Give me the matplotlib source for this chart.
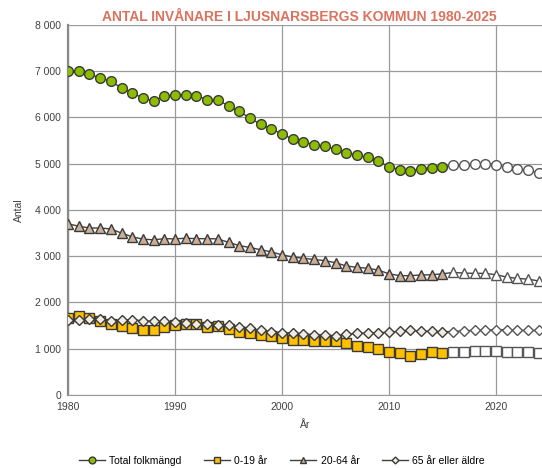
import matplotlib.pyplot as plt
import matplotlib.ticker as mticker
import numpy as np

years = list(range(1980, 2025))
last_actual = 2015

total = [7000, 7000, 6930, 6860, 6780, 6640, 6530, 6420, 6355, 6460,
         6490, 6480, 6475, 6385, 6380, 6250, 6130, 5990, 5850, 5750,
         5645, 5530, 5470, 5410, 5380, 5310, 5240, 5185, 5135, 5055,
         4935, 4870, 4850, 4880, 4915, 4930, 4970, 4980, 4990, 5005,
         4980, 4920, 4885, 4855, 4805]

age_0_19 = [1675, 1710, 1660, 1590, 1545, 1500, 1450, 1410, 1400, 1475,
            1520, 1530, 1535, 1460, 1490, 1425, 1365, 1330, 1295, 1265,
            1235, 1185, 1185, 1175, 1165, 1160, 1120, 1070, 1035, 985,
            935, 905, 850, 885, 920, 905, 935, 940, 950, 955,
            950, 940, 935, 930, 915]

age_20_64 = [3700, 3650, 3610, 3610, 3590, 3500, 3420, 3370, 3355, 3380,
             3375, 3390, 3380, 3380, 3375, 3300, 3230, 3190, 3140, 3095,
             3030, 2985, 2955, 2930, 2905, 2860, 2790, 2760, 2740, 2700,
             2620, 2580, 2580, 2595, 2600, 2620, 2650, 2635, 2630, 2630,
             2600, 2550, 2520, 2505, 2465]

age_65 = [1625, 1625, 1640, 1635, 1610, 1625, 1620, 1610, 1590, 1590,
          1570, 1555, 1545, 1530, 1520, 1505, 1480, 1445, 1400, 1370,
          1350, 1340, 1325, 1300, 1300, 1280, 1310, 1330, 1340, 1345,
          1360, 1375, 1395, 1380, 1375, 1370, 1370, 1390, 1395, 1405,
          1410, 1410, 1395, 1395, 1395]

series = [
    ("Total folkmängd", total, "o", "#8CBD00", 7.0),
    ("0-19 år", age_0_19, "s", "#FFC000", 6.5),
    ("20-64 år", age_20_64, "^", "#C9AE98", 6.8),
    ("65 år eller äldre", age_65, "D", "#F0ECE2", 5.0),
]

plt.rcParams['font.family'] = ['Liberation Sans', 'DejaVu Sans']

fig = plt.figure(figsize=(5.42, 4.68), dpi=100)
ax = fig.add_axes([0.1255, 0.156, 0.8745, 0.7906])

yrs = np.array(years)
actual = yrs <= last_actual
for label, vals, marker, color, ms in series:
    vals = np.array(vals)
    ax.plot(yrs, vals, color="#404040", lw=1.0, zorder=2)
    ax.plot(yrs[actual], vals[actual], ls="none", marker=marker, ms=ms,
            mfc=color, mec="#3A3A3A", mew=1.0, zorder=3)
    ax.plot(yrs[~actual], vals[~actual], ls="none", marker=marker, ms=ms,
            mfc="white", mec="#555555", mew=1.0, zorder=3)
    ax.plot([], [], color="#404040", lw=1.0, marker=marker, ms=ms * 0.7,
            mfc=color, mec="#3A3A3A", label=label)

ax.set_xlim(1980, 2024.3)
ax.set_ylim(0, 8000)
ax.set_xticks(range(1980, 2021, 10))
ax.set_yticks(range(0, 8001, 1000))
ax.yaxis.set_major_formatter(mticker.FuncFormatter(lambda v, p: f"{int(v):,}".replace(",", " ")))
ax.grid(True, color="#9A9A9A", lw=0.9)
ax.set_axisbelow(True)
ax.tick_params(labelsize=7.5, colors="#404040", length=0, pad=5)
for s in ("top", "right"):
    ax.spines[s].set_visible(False)
ax.spines["left"].set_color("#8A8A8A")
ax.spines["left"].set_linewidth(1.6)
ax.spines["bottom"].set_color("#9A9A9A")

ax.set_xlabel("År", fontsize=7.5, color="#404040", labelpad=6)
ax.set_ylabel("Antal", fontsize=7.5, color="#404040", labelpad=8)

fig.text(0.552, 0.963, "ANTAL INVÅNARE I LJUSNARSBERGS KOMMUN 1980-2025",
         ha="center", va="center", fontsize=10, fontweight="bold",
         color="#D9735F")

fig.legend(loc="center", bbox_to_anchor=(0.52, 0.015), ncol=4, frameon=False,
           fontsize=7.5, handlelength=2.5, columnspacing=2.2, handletextpad=0.4)

fig.savefig("out.png", dpi=100)
